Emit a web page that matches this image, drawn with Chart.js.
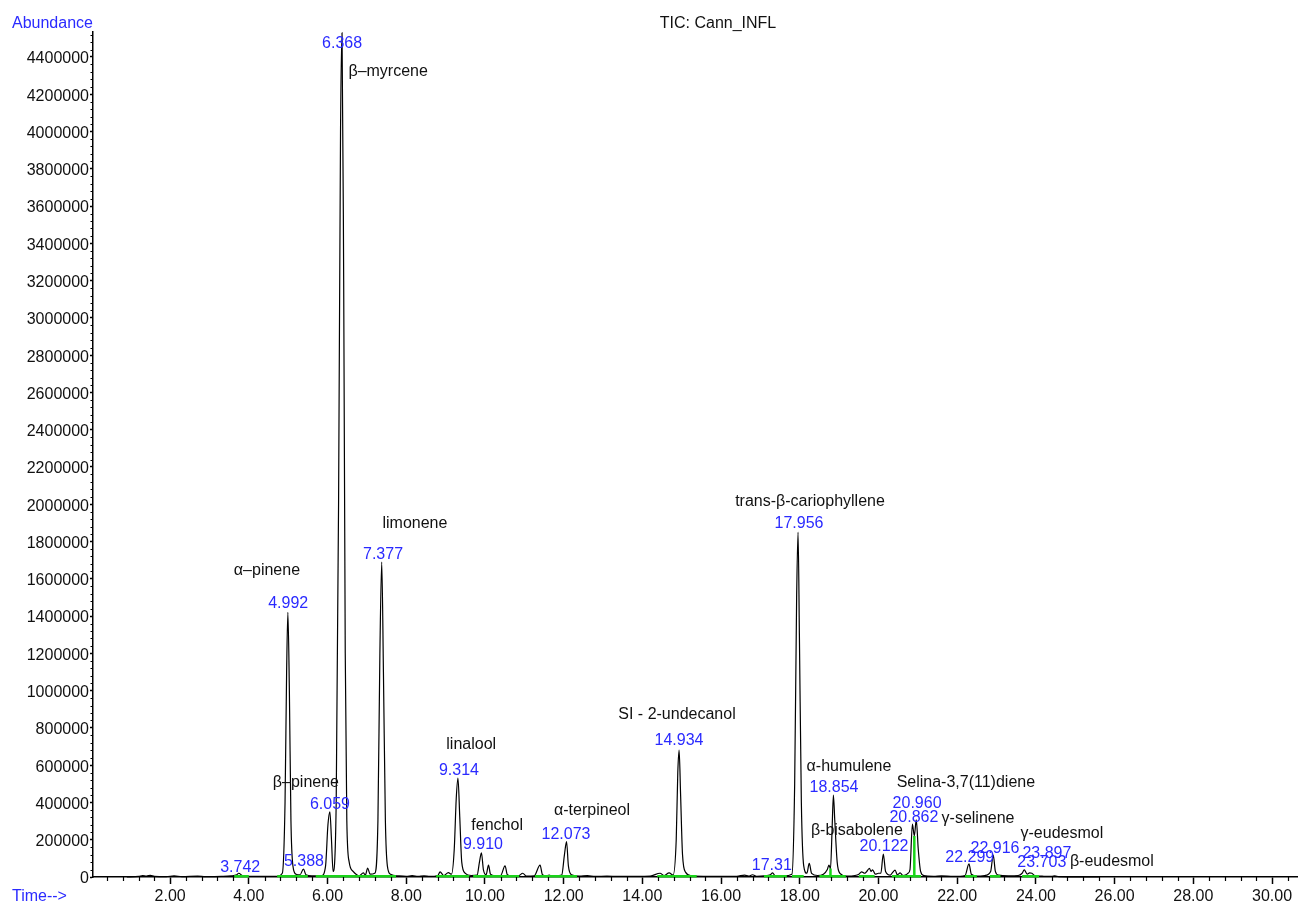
<!DOCTYPE html>
<html><head><meta charset="utf-8">
<script src="https://cdn.jsdelivr.net/npm/chart.js@4/dist/chart.umd.min.js"></script>
<style>html,body{margin:0;padding:0;background:#fff}#wrap{position:relative;width:1298px;height:904px}</style>
</head><body><div id="wrap"><canvas id="c"></canvas></div>
<script>
const FONT = '"Liberation Sans", Arial, Helvetica, sans-serif';

// retention time (min), abundance
const tracePoints = [
[0.90,0],[1.20,3000],[1.30,8000],[1.40,5000],[1.50,9000],[1.60,3000],[1.90,2000],[2.10,6000],[2.30,2000],[2.70,5000],
[2.90,2000],[3.30,3000],[3.55,6000],[3.69,12000],[3.742,20000],[3.85,6000],[4.10,3000],[4.40,4000],[4.70,3000],[4.85,20000],
[4.92,400000],[4.96,1100000],[4.992,1420000],[5.03,1000000],[5.07,300000],[5.12,60000],[5.20,15000],[5.30,12000],[5.388,43000],[5.45,12000],
[5.60,6000],[5.85,8000],[5.95,60000],[6.01,280000],[6.059,350000],[6.10,200000],[6.14,30000],[6.22,400000],[6.28,2000000],[6.33,4000000],
[6.368,4530000],[6.41,3200000],[6.45,1200000],[6.49,300000],[6.55,80000],[6.65,30000],[6.74,12000],[6.80,6000],[6.91,22000],[6.96,10000],
[7.02,48000],[7.08,15000],[7.20,20000],[7.28,300000],[7.33,1200000],[7.377,1690000],[7.42,1100000],[7.47,300000],[7.52,60000],[7.60,15000],
[7.80,6000],[8.00,3000],[8.15,7000],[8.30,3000],[8.45,6000],[8.60,3000],[8.80,8000],[8.86,28000],[8.95,8000],[9.07,23000],
[9.15,15000],[9.22,150000],[9.27,420000],[9.314,531000],[9.36,320000],[9.41,80000],[9.50,20000],[9.65,8000],[9.80,10000],[9.86,80000],
[9.91,130000],[9.96,40000],[10.03,12000],[10.09,64000],[10.14,15000],[10.25,6000],[10.40,8000],[10.51,60000],[10.57,12000],[10.70,5000],
[10.85,6000],[10.96,20000],[11.05,5000],[11.25,6000],[11.40,64000],[11.46,12000],[11.55,5000],[11.63,10000],[11.72,4000],[11.95,10000],
[12.02,120000],[12.073,190000],[12.12,60000],[12.20,12000],[12.40,5000],[12.60,7000],[12.80,3000],[13.10,5000],[13.40,3000],[13.80,4000],
[14.20,5000],[14.45,20000],[14.55,8000],[14.68,22000],[14.78,10000],[14.86,200000],[14.90,560000],[14.934,681000],[14.97,450000],[15.02,120000],
[15.10,25000],[15.25,6000],[15.60,4000],[16.00,3000],[16.40,4000],[16.60,10000],[16.70,5000],[16.80,12000],[16.90,4000],[17.10,6000],
[17.25,12000],[17.31,22000],[17.37,8000],[17.60,6000],[17.80,15000],[17.87,500000],[17.92,1500000],[17.956,1850000],[17.99,1300000],[18.04,400000],
[18.10,60000],[18.18,20000],[18.24,73000],[18.30,20000],[18.45,8000],[18.60,15000],[18.70,40000],[18.74,64000],[18.78,45000],[18.82,250000],
[18.854,440000],[18.89,300000],[18.95,80000],[19.02,20000],[19.20,5000],[19.40,8000],[19.50,15000],[19.57,28000],[19.65,20000],[19.72,35000],
[19.77,47000],[19.81,30000],[19.85,38000],[19.92,15000],[20.00,20000],[20.06,20000],[20.122,123000],[20.18,30000],[20.30,10000],[20.36,25000],
[20.42,37000],[20.48,12000],[20.55,22000],[20.62,8000],[20.70,12000],[20.75,20000],[20.80,40000],[20.862,284000],[20.91,220000],[20.96,306000],
[21.01,150000],[21.07,30000],[21.15,8000],[21.40,4000],[21.60,6000],[21.90,3000],[22.20,8000],[22.299,70000],[22.36,15000],[22.50,5000],
[22.70,8000],[22.85,30000],[22.916,118000],[22.97,30000],[23.05,10000],[23.30,6000],[23.55,8000],[23.65,20000],[23.703,38000],[23.78,15000],
[23.84,22000],[23.897,20000],[23.97,8000],[24.20,4000],[24.40,3000],[24.48,6000],[24.58,2000],[25.00,1000],[25.60,0]
];

// integration baselines (start, end) in min
const baselineSegments = [
[3.63,4.00],[4.72,5.50],[5.70,7.74],[8.76,9.60],[9.70,10.87],[11.27,12.34],[14.38,15.38],[17.09,17.67],[17.80,18.10],
[18.50,19.17],[19.50,19.90],[20.34,21.08],[22.20,22.50],[22.83,23.10],[23.65,24.08]
];
// peak split drop lines (time, abundance)
const dropLines = [[18.78,45000],[20.91,220000]];

const xTickValues = [2,4,6,8,10,12,14,16,18,20,22,24,26,28,30];
const yTickValues = [0,200000,400000,600000,800000,1000000,1200000,1400000,1600000,1800000,2000000,2200000,
  2400000,2600000,2800000,3000000,3200000,3400000,3600000,3800000,4000000,4200000,4400000];

// retention-time labels: text, anchor time, anchor abundance
const rtLabels    = ['3.742','4.992','5.388','6.059','6.368','7.377','9.314','9.910','12.073','14.934','17.31','17.956','18.854','20.122','20.960','20.862','22.299','22.916','23.897','23.703'];
const rtLabelTime = [3.78,5.00,5.40,6.06,6.37,7.41,9.34,9.95,12.06,14.93,17.29,17.98,18.87,20.14,20.98,20.90,22.32,22.96,24.28,24.15];
const rtLabelAbund= [59000,1476000,91000,397000,4480000,1739000,580000,182000,236000,740000,70000,1905000,488000,172000,402000,327000,113000,161000,134000,86000];

// compound names: text, anchor time, anchor abundance
const nameLabels    = ['α–pinene','β–myrcene','limonene','β–pinene','linalool','fenchol','α-terpineol','SI - 2-undecanol','trans-β-cariophyllene','α-humulene','β-bisabolene','Selina-3,7(11)diene','γ-selinene','γ-eudesmol','β-eudesmol'];
const nameLabelTime = [4.46,7.54,8.22,5.45,9.65,10.31,12.72,14.88,18.26,19.25,19.45,22.22,22.53,24.66,25.93];
const nameLabelAbund= [1653000,4330000,1905000,515000,719000,284000,365000,880000,2023000,601000,258000,515000,322000,241000,91000];

const BLUE = '#2a2aff';
const TEXT_DY = 2;

const traceData = tracePoints.map(p => ({x:p[0], y:p[1]}));
const greenData = [];
baselineSegments.forEach(s => { greenData.push({x:s[0],y:4000},{x:s[1],y:4000},{x:s[1],y:null}); });
dropLines.forEach(d => { greenData.push({x:d[0],y:0},{x:d[0],y:d[1]},{x:d[0],y:null}); });

const overlay = {
  id:'overlay',
  afterDraw(chart){
    const ctx = chart.ctx, xs = chart.scales.x, ys = chart.scales.y, a = chart.chartArea;
    ctx.save();
    // minor ticks
    ctx.strokeStyle = '#000'; ctx.lineWidth = 1.2;
    ctx.beginPath();
    for (let i = 1; i * 0.4 <= xs.max; i++) {
      const t = i * 0.4;
      if (Math.abs(t/2 - Math.round(t/2)) < 1e-6) continue;
      const px = Math.round(xs.getPixelForValue(t)) + 0.5;
      ctx.moveTo(px, a.bottom); ctx.lineTo(px, a.bottom + 4);
    }
    for (let i = 1; i * 40000 <= ys.max; i++) {
      const v = i * 40000;
      if (v % 200000 === 0) continue;
      const py = Math.round(ys.getPixelForValue(v)) + 0.5;
      ctx.moveTo(a.left, py); ctx.lineTo(a.left - 2.5, py);
    }
    ctx.stroke();
    // labels
    ctx.font = '16px ' + FONT;
    ctx.textAlign = 'center'; ctx.textBaseline = 'middle';
    ctx.fillStyle = '#111';
    nameLabels.forEach((s,i) => ctx.fillText(s, xs.getPixelForValue(nameLabelTime[i]), ys.getPixelForValue(nameLabelAbund[i]) + TEXT_DY));
    ctx.fillStyle = BLUE;
    rtLabels.forEach((s,i) => ctx.fillText(s, xs.getPixelForValue(rtLabelTime[i]), ys.getPixelForValue(rtLabelAbund[i]) + TEXT_DY));
    // titles
    ctx.textAlign = 'left';
    ctx.fillText('Abundance', 12, 22 + TEXT_DY);
    ctx.fillText('Time-->', 12, 895 + TEXT_DY);
    ctx.textAlign = 'center'; ctx.fillStyle = '#111';
    ctx.fillText('TIC: Cann_INFL', 718, 22 + TEXT_DY);
    ctx.restore();
  }
};

new Chart(document.getElementById('c'), {
  type:'line',
  data:{datasets:[
    {data:greenData, borderColor:'#19d419', borderWidth:2.5, pointRadius:0, tension:0, spanGaps:false, clip:6, order:0},
    {data:traceData, borderColor:'#000', borderWidth:1.2, pointRadius:0, cubicInterpolationMode:'monotone', clip:6, order:1}
  ]},
  options:{
    responsive:true, maintainAspectRatio:false, animation:false, parsing:true,
    layout:{padding:{top:32,right:0,left:0,bottom:0}},
    plugins:{legend:{display:false}, tooltip:{enabled:false}, title:{display:false}},
    scales:{
      x:{type:'linear', min:0.04, max:30.66,
        afterBuildTicks:s=>{ s.ticks = xTickValues.map(v=>({value:v})); },
        afterFit:s=>{ s.height = 27; },
        grid:{drawOnChartArea:false, drawTicks:true, tickLength:7, tickColor:'#000', tickWidth:1.5},
        border:{display:true, color:'#000', width:1.5},
        ticks:{color:'#111', font:{family:FONT,size:16}, padding:3, maxRotation:0, autoSkip:false, callback:v=>Number(v).toFixed(2)}
      },
      y:{type:'linear', min:0, max:4534000,
        afterBuildTicks:s=>{ s.ticks = yTickValues.map(v=>({value:v})); },
        afterFit:s=>{ s.width = 93; },
        grid:{drawOnChartArea:false, drawTicks:true, tickLength:3, tickColor:'#000', tickWidth:1.5},
        border:{display:true, color:'#000', width:1.5},
        ticks:{color:'#111', font:{family:FONT,size:16}, padding:1, labelOffset:2, autoSkip:false, callback:v=>String(v)}
      }
    }
  },
  plugins:[overlay]
});
</script></body></html>
